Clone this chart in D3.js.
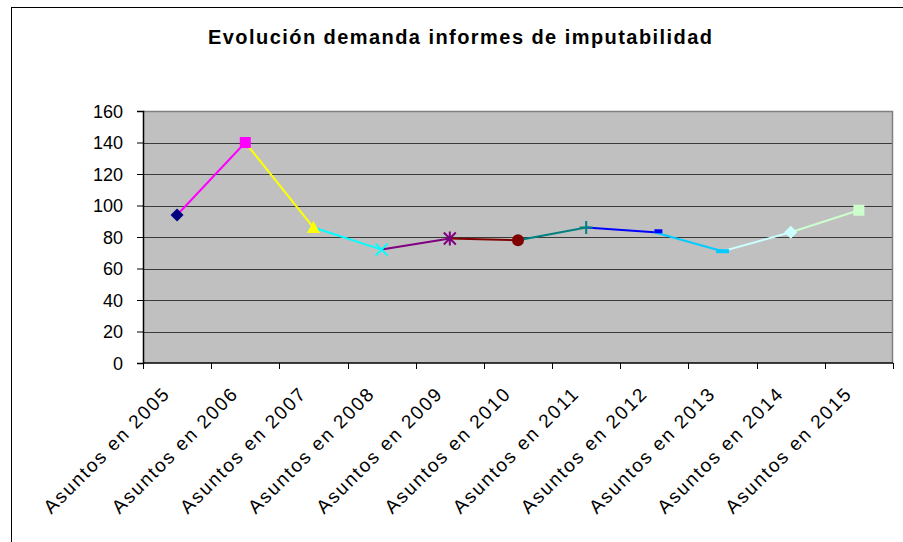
<!DOCTYPE html>
<html>
<head>
<meta charset="utf-8">
<script src="https://cdn.jsdelivr.net/npm/d3@7"></script>
<style>
  body { margin: 0; background: #fff; }
  svg { display: block; font-family: Arial, "Liberation Sans", sans-serif; }
</style>
</head>
<body>
<svg width="903" height="542"></svg>
<script>
const categories = ['Asuntos en 2005', 'Asuntos en 2006', 'Asuntos en 2007', 'Asuntos en 2008',
  'Asuntos en 2009', 'Asuntos en 2010', 'Asuntos en 2011', 'Asuntos en 2012',
  'Asuntos en 2013', 'Asuntos en 2014', 'Asuntos en 2015'];
const values = [94, 140, 86, 72, 79, 78, 86, 83, 71, 83, 97];
const pointColors = ['#000080', '#ff00ff', '#ffff00', '#00ffff', '#800080', '#800000',
  '#008080', '#0000ff', '#00ccff', '#ccffff', '#ccffcc'];
const markerTypes = ['diamond', 'square', 'triangle', 'x', 'star', 'circle',
  'plus', 'dot', 'dash', 'diamond', 'square'];
const yTicks = [0, 20, 40, 60, 80, 100, 120, 140, 160];
const title = 'Evolución demanda informes de imputabilidad';

const svg = d3.select('svg');
const plot = {left: 143, top: 111, right: 893, bottom: 363};

// Outer chart frame
svg.append('rect')
  .attr('x', 11.5).attr('y', 7.5)
  .attr('width', 1000).attr('height', 1000)
  .attr('fill', 'none').attr('stroke', '#000');

// Scales
const x = d3.scaleBand().domain(categories).range([plot.left, plot.right]);
const y = d3.scaleLinear().domain([0, 160]).range([plot.bottom, plot.top]);

// Plot area
svg.append('rect')
  .attr('x', plot.left).attr('y', plot.top)
  .attr('width', plot.right - plot.left).attr('height', plot.bottom - plot.top)
  .attr('fill', '#c0c0c0');

// Gridlines
svg.append('g')
  .selectAll('line')
  .data(yTicks.filter(d => d > 0 && d < 160)).enter()
  .append('line')
  .attr('x1', plot.left).attr('x2', plot.right)
  .attr('y1', d => Math.round(y(d)) + 0.5).attr('y2', d => Math.round(y(d)) + 0.5)
  .attr('stroke', '#3a3a3a');

// Plot border top/right
svg.append('path')
  .attr('d', `M${plot.left},${plot.top + 0.5}H${plot.right - 0.5}V${plot.bottom}`)
  .attr('fill', 'none').attr('stroke', '#808080').attr('stroke-width', 1.5);

// Y axis
const yAxis = svg.append('g')
  .attr('transform', `translate(${plot.left},0)`)
  .call(d3.axisLeft(y).tickValues(yTicks).tickSize(6).tickPadding(14));
yAxis.select('.domain').attr('stroke', '#000').attr('stroke-width', 1.5);
yAxis.selectAll('.tick line').attr('stroke', '#000');
yAxis.selectAll('.tick text')
  .attr('font-size', 18).attr('font-family', 'Arial, "Liberation Sans", sans-serif')
  .attr('fill', '#000').attr('dy', '0.36em');

// X axis (ticks at band boundaries)
const xAxis = svg.append('g').attr('transform', `translate(0,${plot.bottom})`);
xAxis.append('line')
  .attr('x1', plot.left).attr('x2', plot.right)
  .attr('stroke', '#000').attr('stroke-width', 1.5);
const bounds = categories.map(c => x(c)).concat([plot.right]);
xAxis.selectAll('.xtick')
  .data(bounds).enter()
  .append('line')
  .attr('class', 'xtick')
  .attr('x1', d => Math.round(d) + 0.5).attr('x2', d => Math.round(d) + 0.5)
  .attr('y1', 0).attr('y2', 6)
  .attr('stroke', '#000');
xAxis.selectAll('.xlabel')
  .data(categories).enter()
  .append('text')
  .attr('class', 'xlabel')
  .attr('transform', d => `translate(${x(d) + x.bandwidth() / 2 - 7},${33}) rotate(-45)`)
  .attr('text-anchor', 'end')
  .attr('font-size', 19)
  .attr('textLength', 168)
  .attr('lengthAdjust', 'spacing')
  .text(d => d);

// Title
svg.append('text')
  .attr('x', 208).attr('y', 44)
  .attr('font-size', 20).attr('font-weight', 'bold')
  .attr('textLength', 504).attr('lengthAdjust', 'spacing')
  .text(title);

// Line segments, each coloured like the point it ends at
const pts = categories.map((c, i) => ({cx: x(c) + x.bandwidth() / 2, cy: y(values[i]), i}));
svg.append('g')
  .selectAll('line')
  .data(pts.slice(1)).enter()
  .append('line')
  .attr('x1', d => pts[d.i - 1].cx).attr('y1', d => pts[d.i - 1].cy)
  .attr('x2', d => d.cx).attr('y2', d => d.cy)
  .attr('stroke', d => pointColors[d.i])
  .attr('stroke-width', 2);

// Markers
function markerPath (type) {
  switch (type) {
    case 'diamond': return 'M0,-6.5L6.5,0L0,6.5L-6.5,0Z';
    case 'square': return 'M-5.5,-5.5H5.5V5.5H-5.5Z';
    case 'triangle': return 'M0,-6.5L6.5,5.5H-6.5Z';
    case 'circle': return 'M-6,0A6,6 0 1,0 6,0A6,6 0 1,0 -6,0Z';
    case 'x': return 'M-6,-6L6,6M-6,6L6,-6';
    case 'star': return 'M-6,-6L6,6M-6,6L6,-6M0,-7V7';
    case 'plus': return 'M-6.5,0H6.5M0,-6.5V6.5';
    case 'dot': return 'M0,-3H8V1H0Z';
    case 'dash': return 'M-6.5,-2H6.5V2H-6.5Z';
  }
}
const lineMarkers = ['x', 'star', 'plus'];
svg.append('g')
  .selectAll('path')
  .data(pts).enter()
  .append('path')
  .attr('transform', d => `translate(${d.cx},${d.cy})`)
  .attr('d', d => markerPath(markerTypes[d.i]))
  .attr('fill', d => lineMarkers.includes(markerTypes[d.i]) ? 'none' : pointColors[d.i])
  .attr('stroke', d => lineMarkers.includes(markerTypes[d.i]) ? pointColors[d.i] : 'none')
  .attr('stroke-width', 2);
</script>
</body>
</html>
